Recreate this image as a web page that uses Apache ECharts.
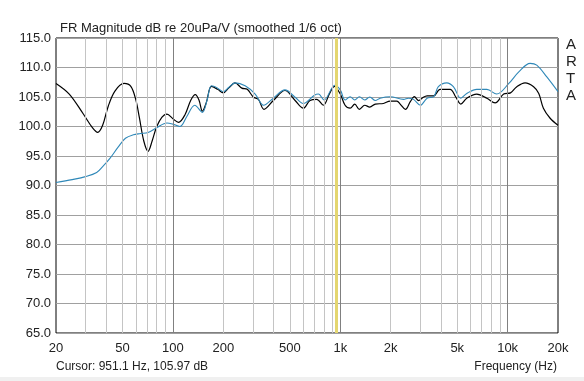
<!DOCTYPE html>
<html><head><meta charset="utf-8">
<script src="https://cdn.jsdelivr.net/npm/echarts@6/dist/echarts.min.js"></script>
<style>html,body{margin:0;padding:0;background:#fff}#c{width:584px;height:381px}</style>
</head><body><div id="c"></div>
<script>
const blackFreq = [20,24,29,33,35.5,38,41,45,51,56,60,63,67,71,75,80,86,92,100,108,118,128,136,143,150,158,170,185,200,215,235,258,278,302,324,350,398,467,537,601,659,723,792,860,922,1000,1068,1145,1220,1300,1400,1500,1620,1810,1983,2180,2280,2450,2620,2770,2940,3080,3300,3620,3945,4530,4900,5250,5700,6540,7510,8420,9470,10400,11350,12710,14300,15350,16360,17950,20000];
const blackDb = [107.3,105.5,102.2,99.8,99.0,100.2,103.4,106.0,107.3,106.8,104.5,101.5,97.5,95.8,97.5,100.0,101.6,102.1,101.3,100.7,102.0,104.5,105.4,104.5,102.6,104.0,106.8,106.3,105.7,106.5,107.4,106.5,106.3,105.0,104.6,102.9,104.4,106.1,104.4,103.1,104.4,104.6,103.6,105.5,106.8,105.5,103.6,103.1,103.8,102.9,103.6,103.3,103.8,103.9,104.3,104.3,103.8,102.9,104.2,105.05,104.4,104.8,105.2,105.2,106.3,106.3,105.0,103.8,104.8,105.5,104.8,104.0,105.5,105.7,106.75,107.4,106.75,105.6,103.1,101.4,100.2];
const blueFreq = [20,25,30,35,38,42,47,52,58,64,71,80,92,100,110,121,135,150,160,170,185,200,215,235,270,310,348,398,467,537,600,700,740,800,928,1000,1068,1145,1220,1300,1400,1500,1620,1730,1983,2390,2550,2740,3010,3300,3620,3855,4330,4740,5250,5700,6540,7510,8600,10170,11700,13630,14930,17150,20000];
const blueDb = [90.5,91.0,91.5,92.2,93.2,94.6,96.5,98.0,98.6,98.8,99.0,99.8,100.6,100.4,100.0,101.7,103.6,102.4,104.5,106.9,106.5,105.9,106.6,107.4,106.9,105.5,103.6,104.8,106.2,104.95,103.9,105.3,105.5,104.5,107.0,106.2,104.5,105.05,104.5,105.05,104.5,105.0,104.4,104.8,105.05,104.6,104.8,104.6,103.6,104.8,105.05,106.75,107.4,106.75,104.8,105.6,106.3,106.3,105.5,107.3,109.3,110.7,110.4,108.4,105.9];
const xTickLabels = {20:'20',50:'50',100:'100',200:'200',500:'500',1000:'1k',2000:'2k',5000:'5k',10000:'10k',20000:'20k'};
const minorGrid = [30,40,50,60,70,80,90,200,300,400,500,600,700,800,900,2000,3000,4000,5000,6000,7000,8000,9000];
const majorGrid = [100,1000,10000];
const cursorFreq = 951.1;
const titleText = 'FR Magnitude dB re 20uPa/V (smoothed 1/6 oct)';
const cursorText = 'Cursor: 951.1 Hz, 105.97 dB';

const font = 'Liberation Sans, Arial, sans-serif';
const chart = echarts.init(document.getElementById('c'), null, {renderer:'canvas'});
const zip = (a,b)=>a.map((v,i)=>[v,b[i]]);
chart.setOption({
  animation:false,
  backgroundColor:'#fff',
  grid:{left:56,right:26,top:38,bottom:48,show:true,borderColor:'#000',borderWidth:1,backgroundColor:'#fff'},
  title:{text:titleText,left:55,top:17,textStyle:{fontFamily:font,fontSize:13,fontWeight:'normal',color:'#222'}},
  xAxis:{type:'log',logBase:10,min:20,max:20000,
    axisLine:{show:false},axisTick:{show:false},splitLine:{show:false},
    axisLabel:{show:true,customValues:Object.keys(xTickLabels).map(Number),formatter:v=>xTickLabels[Math.round(v)]||'',
      fontFamily:font,fontSize:13,color:'#222',margin:9,showMinLabel:true,showMaxLabel:true}},
  yAxis:{type:'value',min:65,max:115,interval:5,
    axisLine:{show:false},axisTick:{show:false},
    splitLine:{show:true,lineStyle:{color:'#a0a0a0',width:1}},
    axisLabel:{formatter:v=>v.toFixed(1),fontFamily:font,fontSize:13,color:'#222',margin:5}},
  graphic:[
    {type:'text',left:566,top:36,style:{text:'A\nR\nT\nA',font:'15px '+font,fill:'#222',lineHeight:17,align:'left'}},
    {type:'text',left:56,top:361,style:{text:cursorText,font:'12px '+font,fill:'#222'}},
    {type:'text',right:27,top:361,style:{text:'Frequency (Hz)',font:'12px '+font,fill:'#222'}},
    {type:'rect',left:0,top:377,shape:{width:584,height:4},style:{fill:'#f0f0f0'}}
  ],
  series:[
    {type:'line',data:[],silent:true,
      markLine:{silent:true,symbol:'none',label:{show:false},
        data:[
          ...minorGrid.map(f=>({xAxis:f,lineStyle:{color:'#c4c4c4',width:1,type:'solid'}})),
          ...majorGrid.map(f=>({xAxis:f,lineStyle:{color:'#808080',width:1,type:'solid'}})),
          {xAxis:cursorFreq,lineStyle:{color:'#e4d670',width:3,type:'solid'}}
        ]}},
    {type:'line',data:zip(blackFreq,blackDb),smooth:0.35,showSymbol:false,lineStyle:{color:'#000',width:1.2},z:3},
    {type:'line',data:zip(blueFreq,blueDb),smooth:0.35,showSymbol:false,lineStyle:{color:'#2f88b8',width:1.1},z:4}
  ]
});
</script></body></html>
